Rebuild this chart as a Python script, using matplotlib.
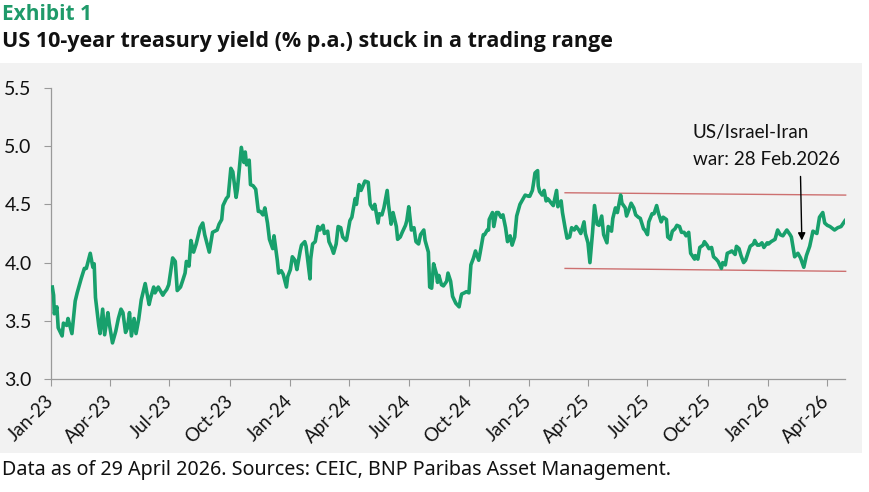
import matplotlib
matplotlib.use('Agg')
import matplotlib.pyplot as plt
import matplotlib.dates as mdates
from matplotlib.patches import Rectangle
import pandas as pd

# US 10-year treasury yield (% p.a.) (month-day, value)
days_2023 = ['01-03', '01-05', '01-06', '01-10', '01-12', '01-18', '01-20', '01-25', '01-27',
             '02-02', '02-07', '02-10', '02-16', '02-21', '02-24', '03-02', '03-06', '03-08',
             '03-10', '03-15', '03-17', '03-21', '03-24', '03-29', '03-31', '04-05', '04-10',
             '04-14', '04-18', '04-21', '04-25', '04-28', '05-01', '05-04', '05-08', '05-11',
             '05-15', '05-19', '05-25', '05-31', '06-02', '06-07', '06-09', '06-14', '06-16',
             '06-21', '06-23', '06-27', '06-30', '07-06', '07-10', '07-13', '07-18', '07-21',
             '07-25', '07-27', '07-31', '08-03', '08-07', '08-11', '08-17', '08-21', '08-24',
             '08-31', '09-05', '09-12', '09-15', '09-19', '09-21', '09-26', '09-29', '10-03',
             '10-06', '10-11', '10-13', '10-19', '10-23', '10-25', '10-27', '10-31', '11-02',
             '11-06', '11-10', '11-14', '11-17', '11-21', '11-24', '11-28', '12-01', '12-06',
             '12-08', '12-13', '12-15', '12-19', '12-22', '12-27', '12-29']
yld_2023 = [3.79, 3.72, 3.56, 3.62, 3.44, 3.37, 3.48, 3.46, 3.52,
            3.39, 3.67, 3.74, 3.86, 3.95, 3.95, 4.08, 3.96, 3.99,
            3.70, 3.46, 3.39, 3.60, 3.38, 3.57, 3.48, 3.31, 3.41,
            3.52, 3.60, 3.57, 3.40, 3.44, 3.57, 3.37, 3.52, 3.39,
            3.51, 3.68, 3.82, 3.64, 3.69, 3.79, 3.74, 3.79, 3.77,
            3.72, 3.74, 3.77, 3.81, 4.04, 4.01, 3.76, 3.79, 3.84,
            3.91, 4.01, 3.97, 4.19, 4.09, 4.16, 4.30, 4.34, 4.24,
            4.09, 4.26, 4.28, 4.33, 4.37, 4.49, 4.55, 4.57, 4.81,
            4.78, 4.56, 4.63, 4.99, 4.86, 4.95, 4.84, 4.88, 4.67,
            4.66, 4.63, 4.44, 4.44, 4.41, 4.47, 4.34, 4.20, 4.12,
            4.23, 4.02, 3.91, 3.93, 3.90, 3.79, 3.88]

days_2024 = ['01-02', '01-05', '01-09', '01-12', '01-17', '01-19', '01-24', '01-26', '01-31',
             '02-01', '02-02', '02-05', '02-09', '02-13', '02-16', '02-21', '02-23', '02-28',
             '03-01', '03-05', '03-08', '03-12', '03-15', '03-19', '03-22', '03-27', '03-28',
             '04-02', '04-05', '04-10', '04-12', '04-16', '04-19', '04-25', '04-30', '05-03',
             '05-07', '05-10', '05-15', '05-17', '05-21', '05-24', '05-29', '05-31', '06-04',
             '06-07', '06-12', '06-14', '06-18', '06-21', '06-26', '06-28', '07-01', '07-05',
             '07-09', '07-12', '07-16', '07-19', '07-24', '07-26', '07-31', '08-02', '08-05',
             '08-08', '08-12', '08-14', '08-16', '08-20', '08-23', '08-28', '08-30', '09-03',
             '09-06', '09-11', '09-16', '09-19', '09-20', '09-24', '09-27', '10-01', '10-04',
             '10-08', '10-11', '10-16', '10-18', '10-23', '10-25', '10-29', '10-31', '11-01',
             '11-06', '11-08', '11-12', '11-15', '11-19', '11-22', '11-26', '11-29', '12-03',
             '12-06', '12-10', '12-13', '12-18', '12-20', '12-26', '12-31']
yld_2024 = [3.94, 4.05, 4.02, 3.94, 4.10, 4.15, 4.18, 4.14, 3.91,
            3.86, 4.03, 4.16, 4.18, 4.31, 4.28, 4.32, 4.25, 4.27,
            4.18, 4.13, 4.08, 4.16, 4.31, 4.30, 4.22, 4.19, 4.20,
            4.36, 4.39, 4.55, 4.50, 4.67, 4.62, 4.70, 4.69, 4.50,
            4.46, 4.50, 4.34, 4.42, 4.41, 4.47, 4.62, 4.50, 4.33,
            4.43, 4.31, 4.20, 4.22, 4.26, 4.32, 4.36, 4.48, 4.28,
            4.30, 4.18, 4.16, 4.24, 4.28, 4.19, 4.09, 3.79, 3.78,
            3.99, 3.91, 3.83, 3.89, 3.81, 3.80, 3.84, 3.91, 3.84,
            3.71, 3.65, 3.62, 3.71, 3.73, 3.74, 3.75, 3.74, 3.98,
            4.04, 4.10, 4.02, 4.08, 4.24, 4.24, 4.28, 4.28, 4.37,
            4.43, 4.31, 4.43, 4.43, 4.39, 4.41, 4.30, 4.18, 4.23,
            4.15, 4.22, 4.40, 4.50, 4.52, 4.58, 4.57]

days_2025 = ['01-02', '01-06', '01-08', '01-10', '01-14', '01-15', '01-17', '01-21', '01-24',
             '01-27', '01-29', '01-31', '02-04', '02-07', '02-12', '02-14', '02-19', '02-21',
             '02-25', '02-28', '03-04', '03-07', '03-11', '03-14', '03-18', '03-21', '03-26',
             '03-28', '04-01', '04-04', '04-08', '04-11', '04-15', '04-18', '04-22', '04-25',
             '04-30', '05-02', '05-07', '05-09', '05-13', '05-16', '05-21', '05-23', '05-28',
             '05-30', '06-03', '06-06', '06-10', '06-13', '06-17', '06-20', '06-25', '06-27',
             '07-01', '07-03', '07-08', '07-11', '07-15', '07-18', '07-22', '07-25', '07-30',
             '08-01', '08-05', '08-08', '08-12', '08-15', '08-19', '08-22', '08-26', '08-29',
             '09-02', '09-05', '09-11', '09-12', '09-16', '09-19', '09-24', '09-26', '09-30',
             '10-03', '10-07', '10-10', '10-14', '10-17', '10-22', '10-24', '10-28', '10-31',
             '11-04', '11-07', '11-12', '11-14', '11-18', '11-21', '11-25', '11-28', '12-02',
             '12-05', '12-10', '12-12', '12-16', '12-19', '12-23', '12-26', '12-31']
yld_2025 = [4.57, 4.62, 4.69, 4.77, 4.79, 4.66, 4.61, 4.58, 4.62,
            4.53, 4.55, 4.54, 4.51, 4.49, 4.62, 4.48, 4.53, 4.43,
            4.30, 4.21, 4.22, 4.30, 4.28, 4.31, 4.28, 4.25, 4.35,
            4.25, 4.17, 4.00, 4.26, 4.49, 4.33, 4.32, 4.40, 4.24,
            4.17, 4.31, 4.27, 4.38, 4.47, 4.43, 4.58, 4.51, 4.47,
            4.40, 4.46, 4.51, 4.47, 4.41, 4.39, 4.38, 4.29, 4.28,
            4.24, 4.35, 4.42, 4.42, 4.49, 4.42, 4.35, 4.39, 4.37,
            4.22, 4.20, 4.27, 4.29, 4.32, 4.31, 4.26, 4.26, 4.23,
            4.26, 4.08, 4.03, 4.06, 4.03, 4.13, 4.15, 4.18, 4.15,
            4.12, 4.13, 4.05, 4.03, 4.01, 3.95, 4.00, 3.98, 4.08,
            4.09, 4.10, 4.07, 4.14, 4.12, 4.06, 4.00, 4.02, 4.09,
            4.14, 4.16, 4.19, 4.15, 4.15, 4.17, 4.13, 4.17]

days_2026 = ['01-02', '01-06', '01-12', '01-16', '01-20', '01-24', '01-30', '02-04', '02-06',
             '02-11', '02-16', '02-20', '02-25', '03-01', '03-06', '03-11', '03-17', '03-21',
             '03-26', '03-29', '04-02', '04-06', '04-13', '04-18', '04-23', '04-29']
yld_2026 = [4.16, 4.18, 4.20, 4.28, 4.24, 4.23, 4.28, 4.24, 4.22,
            4.05, 4.08, 4.04, 3.96, 4.06, 4.14, 4.27, 4.25, 4.39,
            4.43, 4.34, 4.32, 4.31, 4.28, 4.30, 4.31, 4.36]

# trading range drawn in red
range_dates = ['2025-02-25', '2026-04-30']
range_top = [4.60, 4.58]
range_bottom = [3.95, 3.925]

dates = pd.to_datetime(['2023-' + d for d in days_2023] + ['2024-' + d for d in days_2024]
                       + ['2025-' + d for d in days_2025] + ['2026-' + d for d in days_2026])
yields = yld_2023 + yld_2024 + yld_2025 + yld_2026

plt.rcParams['font.family'] = ['Lato', 'DejaVu Sans']

fig = plt.figure(figsize=(8.7, 4.92), dpi=100)
# grey panel behind the chart
fig.patches.append(Rectangle((0, 1 - 453 / 492), 862 / 870, 390 / 492, transform=fig.transFigure,
                             facecolor='#f2f2f2', edgecolor='none', zorder=-5))

ax = fig.add_axes([51 / 870, 1 - 379 / 492, 794 / 870, 291 / 492])
ax.set_facecolor('none')

ax.plot(dates, yields, color='#18a06c', lw=2.6, solid_joinstyle='round', zorder=3)
ax.plot(pd.to_datetime(range_dates), range_top, color='#cd7070', lw=1, zorder=2, clip_on=False)
ax.plot(pd.to_datetime(range_dates), range_bottom, color='#cd7070', lw=1, zorder=2, clip_on=False)

# annotation for the war
ax.text(pd.Timestamp('2025-09-08'), 5.069, 'US/Israel-Iran', fontsize=13.6, color='#111111', va='baseline')
ax.text(pd.Timestamp('2025-09-08'), 4.837, 'war: 28 Feb.2026', fontsize=13.6, color='#111111', va='baseline')
ax.annotate('', xy=(pd.Timestamp('2026-02-22'), 4.19), xytext=(pd.Timestamp('2026-02-20'), 4.74),
            arrowprops=dict(arrowstyle='-|>', color='black', lw=1, mutation_scale=11, shrinkA=0, shrinkB=0))

ax.set_xlim(pd.Timestamp('2023-01-01'), pd.Timestamp('2026-04-29'))
ax.set_ylim(3.0, 5.5)
ax.set_yticks([3.0, 3.5, 4.0, 4.5, 5.0, 5.5])
ax.yaxis.set_major_formatter(matplotlib.ticker.FormatStrFormatter('%.1f'))
ax.xaxis.set_major_locator(mdates.MonthLocator(bymonth=[1, 4, 7, 10]))
ax.xaxis.set_major_formatter(mdates.DateFormatter('%b-%y'))

for s in ['top', 'right']:
    ax.spines[s].set_visible(False)
for s in ['left', 'bottom']:
    ax.spines[s].set_color('#9a9a9a')
    ax.spines[s].set_linewidth(0.9)

ax.tick_params(axis='y', length=5, width=0.8, color='#9a9a9a', pad=9, labelsize=14, labelcolor='#111111')
ax.tick_params(axis='x', length=5, width=0.8, color='#9a9a9a', pad=9, labelsize=13.5, labelcolor='#111111')
for lab in ax.get_xticklabels():
    lab.set_rotation(45)
    lab.set_ha('right')
    lab.set_va('center')
    lab.set_rotation_mode('anchor')

# titles and footnote
fig.text(2 / 870, 1 - 20 / 492, 'Exhibit 1', fontsize=15, fontweight='bold', color='#1f9a6a', va='baseline',
         family=['Open Sans', 'DejaVu Sans'])
fig.text(2 / 870, 1 - 47 / 492, 'US 10-year treasury yield (% p.a.) stuck in a trading range',
         fontsize=15.5, fontweight='bold', color='#111111', va='baseline', family=['Open Sans', 'DejaVu Sans'])
fig.text(2 / 870, 1 - 475 / 492, 'Data as of 29 April 2026. Sources: CEIC, BNP Paribas Asset Management.',
         fontsize=14.2, color='#111111', va='baseline', family=['Noto Sans', 'DejaVu Sans'])

fig.savefig('out.png', dpi=100)
